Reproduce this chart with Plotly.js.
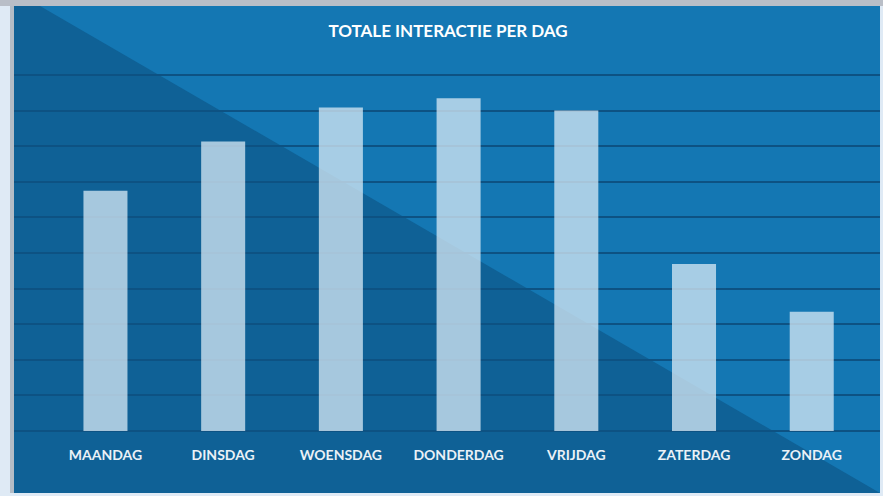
<!DOCTYPE html>
<html>
<head>
<meta charset="utf-8">
<script src="https://cdn.plot.ly/plotly-3.0.1.min.js"></script>
<style>
html,body{margin:0;padding:0;background:#dfeaf5;}
#chart{width:883px;height:496px;}
</style>
</head>
<body>
<div id="chart"></div>
<script>
const days = ['MAANDAG','DINSDAG','WOENSDAG','DONDERDAG','VRIJDAG','ZATERDAG','ZONDAG'];
const interactions = [6.75, 8.13, 9.09, 9.35, 9.0, 4.69, 3.35];
const gridValues = [0,1,2,3,4,5,6,7,8,9,10];
const chartTitle = 'TOTALE INTERACTIE PER DAG';

const W = 883, H = 496;
const m = {l:14, r:3, t:6, b:3};
const pw = W - m.l - m.r, ph = H - m.t - m.b;
const px = v => v / pw, py = v => v / ph;

const trace = {
  type: 'bar',
  x: days,
  y: interactions,
  width: 0.374,
  marker: {color: 'rgba(214,232,244,0.76)', line: {width: 0}},
  hoverinfo: 'x+y'
};

const layout = {
  width: W, height: H,
  margin: m,
  paper_bgcolor: '#dfeaf5',
  plot_bgcolor: '#1477b3',
  showlegend: false,
  title: {
    text: '<b>' + chartTitle + '</b>',
    font: {family: 'Lato, sans-serif', size: 17, color: '#ffffff'},
    x: 448 / W, xanchor: 'center',
    y: 1 - 31.5/H, yref: 'container', yanchor: 'middle'
  },
  xaxis: {
    type: 'category',
    range: [-0.777, 6.58],
    anchor: 'free',
    position: py(493 - 431),
    showgrid: false, zeroline: false, showline: false,
    ticks: 'outside', ticklen: 11, tickcolor: 'rgba(0,0,0,0)',
    tickfont: {family: 'Lato, sans-serif', size: 14, color: '#eaf1f7', weight: 'bold'},
    fixedrange: true
  },
  yaxis: {
    range: [-62/35.6, 425/35.6],
    tickvals: gridValues,
    showticklabels: false,
    showgrid: true, gridcolor: '#0d5283', gridwidth: 2,
    zeroline: false, showline: false,
    fixedrange: true
  },
  shapes: [
    {type: 'rect', xref: 'paper', yref: 'paper', x0: px(-14), x1: px(W - 14), y0: 1, y1: 1 + py(6),
     fillcolor: '#b9bec7', line: {width: 0}, layer: 'below'},
    {type: 'rect', xref: 'paper', yref: 'paper', x0: px(-4), x1: 0, y0: 0, y1: 1,
     fillcolor: '#b3bcc6', line: {width: 0}, layer: 'below'},
    {type: 'path', xref: 'paper', yref: 'paper',
     path: 'M 0 1 L ' + px(26) + ' 1 L 1 0 L 0 0 Z',
     fillcolor: '#0f6196', line: {width: 0}, layer: 'below'}
  ]
};

Plotly.newPlot('chart', [trace], layout, {displayModeBar: false, staticPlot: true});
</script>
</body>
</html>
